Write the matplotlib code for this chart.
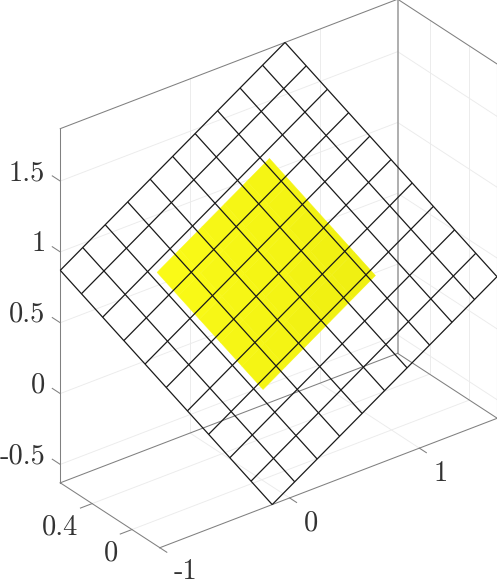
import matplotlib
matplotlib.use('Agg')
import matplotlib.pyplot as plt
import numpy as np
from mpl_toolkits.mplot3d import proj3d

plt.rcParams.update({
    'font.family': 'cmr10',
    'font.size': 20.5,
})

# axis limits and ticks
x_lim = [-1.0, 1.6]
y_lim = [-0.28, 0.72]
z_lim = [-0.63, 1.87]
x_ticks = [-1, 0, 1]
y_ticks = [0, 0.4]
z_ticks = [-0.5, 0, 0.5, 1, 1.5]
x_labels = ['-1', '0', '1']
y_labels = ['0', '0.4']
z_labels = ['-0.5', '0', '0.5', '1', '1.5']

# the two parallel squares: local coordinates and the tilted plane they sit in
mesh_u = [-1.0, -0.8, -0.6, -0.4, -0.2, 0.0, 0.2, 0.4, 0.6, 0.8, 1.0]
mesh_v = [-1.0, -0.8, -0.6, -0.4, -0.2, 0.0, 0.2, 0.4, 0.6, 0.8, 1.0]
patch_u = [-0.5, -0.3, -0.1, 0.1, 0.3, 0.5]
patch_v = [-0.5, -0.3, -0.1, 0.1, 0.3, 0.5]
plane_center = [0.299, 0.22, 0.62]
plane_u = [0.866, 0.0, 0.5]
plane_v = [0.433, -0.5, -0.75]
plane_normal = [0.25, 0.866, -0.433]
patch_offset = 0.23
patch_drop = 0.015

box_color = '#808080'
grid_color = '#ebebeb'
text_color = '#333333'
patch_left = np.array([0.98, 0.98, 0.09])
patch_right = np.array([0.94, 0.94, 0.07])


def plane_points(u, v, offset=0.0):
    U, V = np.meshgrid(u, v)
    pts = [plane_center[i] + plane_u[i] * U + plane_v[i] * V + plane_normal[i] * offset
           for i in range(3)]
    return pts


fig = plt.figure(figsize=(4.97, 5.81), dpi=100)
ax = fig.add_axes([0, 0, 0.9, 0.9], projection='3d', computed_zorder=False, proj_type='ortho')
ax.view_init(elev=30, azim=-127.5)
ax.set_xlim(x_lim)
ax.set_ylim(y_lim)
ax.set_zlim(z_lim)
ax.set_box_aspect((x_lim[1] - x_lim[0], y_lim[1] - y_lim[0], z_lim[1] - z_lim[0]))
ax.set_xticks([])
ax.set_yticks([])
ax.set_zticks([])
ax.set_axis_off()


def line3(xs, ys, zs, color=box_color, lw=0.75, zorder=1):
    ax.plot(xs, ys, zs, color=color, lw=lw, zorder=zorder, clip_on=False)


x0, x1 = x_lim
y0, y1 = y_lim
z0, z1 = z_lim

# grid on floor and the two back walls
for x in x_ticks[1:]:
    line3([x, x], [y0, y1], [z0, z0], grid_color, lw=0.65)
    line3([x, x], [y1, y1], [z0, z1], grid_color, lw=0.65)
for y in y_ticks:
    line3([x0, x1], [y, y], [z0, z0], grid_color, lw=0.65)
    line3([x1, x1], [y, y], [z0, z1], grid_color, lw=0.65)
for z in z_ticks:
    line3([x0, x1], [y1, y1], [z, z], grid_color, lw=0.65)
    line3([x1, x1], [y0, y1], [z, z], grid_color, lw=0.65)

# box edges
line3([x0, x0], [y1, y1], [z0, z1], zorder=2)
line3([x0, x1], [y1, y1], [z1, z1], zorder=2)
line3([x1, x1], [y1, y0], [z1, z1], zorder=2)
line3([x1, x1], [y0, y0], [z1, z0], zorder=2)
line3([x1, x1], [y1, y1], [z0, z1], color='#999999', zorder=2, lw=1.1)
line3([x0, x0], [y1, y0], [z0, z0], zorder=2)
line3([x0, x1], [y0, y0], [z0, z0], zorder=2)
line3([x1, x1], [y0, y1], [z0, z0], zorder=2)
line3([x0, x1], [y1, y1], [z0, z0], zorder=2)

# ticks and their labels
for x, lab in zip(x_ticks, x_labels):
    line3([x, x], [y0, y0 - 0.07], [z0, z0], zorder=2)
    ax.text(x + (0.04 if x < 0 else 0), y0 - 0.21, z0 - 0.085, lab,
            ha='center', va='center', color=text_color)
for y, lab in zip(y_ticks, y_labels):
    line3([x0, x0 - 0.09], [y, y], [z0, z0], zorder=2)
    ax.text(x0 - 0.11, y, z0 - 0.13, lab, ha='right', va='center', color=text_color)
for z, lab in zip(z_ticks, z_labels):
    line3([x0, x0], [y1, y1 + 0.08], [z, z], zorder=2)
    ax.text(x0, y1 + 0.15, z - 0.012, lab, ha='right', va='center', color=text_color)

# yellow square under the black mesh, a little brighter on its left side
px, py, pz = plane_points(patch_u, patch_v, patch_offset)
n_cells = len(patch_u) - 1
patch_colors = np.zeros((n_cells, n_cells, 3))
for i in range(n_cells):
    for j in range(n_cells):
        patch_colors[i, j] = patch_left + (patch_right - patch_left) * (i + j) / (2 * n_cells - 2)
ax.plot_surface(px, py, pz - patch_drop, facecolors=patch_colors, shade=False,
                rstride=1, cstride=1, linewidth=0.3, zorder=3)

mx, my, mz = plane_points(mesh_u, mesh_v)
ax.plot_wireframe(mx, my, mz, rstride=1, cstride=1, color='#1a1a1a', linewidth=0.9, zorder=4)

# place the axes so the box lands where the reference has it
fig.canvas.draw()
W, H = fig.canvas.get_width_height()
corners = [(x0, y1, z0), (x0, y0, z0), (x1, y0, z0), (x1, y1, z1)]
targets = np.array([(60, H - 483), (161, H - 547), (497, H - 418), (397, H - 0)], dtype=float)
xs, ys, _ = proj3d.proj_transform(*np.array(corners).T, ax.get_proj())
now = ax.transData.transform(np.column_stack([xs, ys]))
pos = ax.get_position()
scale = (targets[2, 0] - targets[0, 0]) / (now[2, 0] - now[0, 0])
shift = targets.mean(axis=0) - scale * (now.mean(axis=0) - np.array([pos.x0 * W, pos.y0 * H]))
ax.set_position([shift[0] / W, shift[1] / H, pos.width * scale, pos.height * scale])

fig.savefig('out.png', dpi=100)
